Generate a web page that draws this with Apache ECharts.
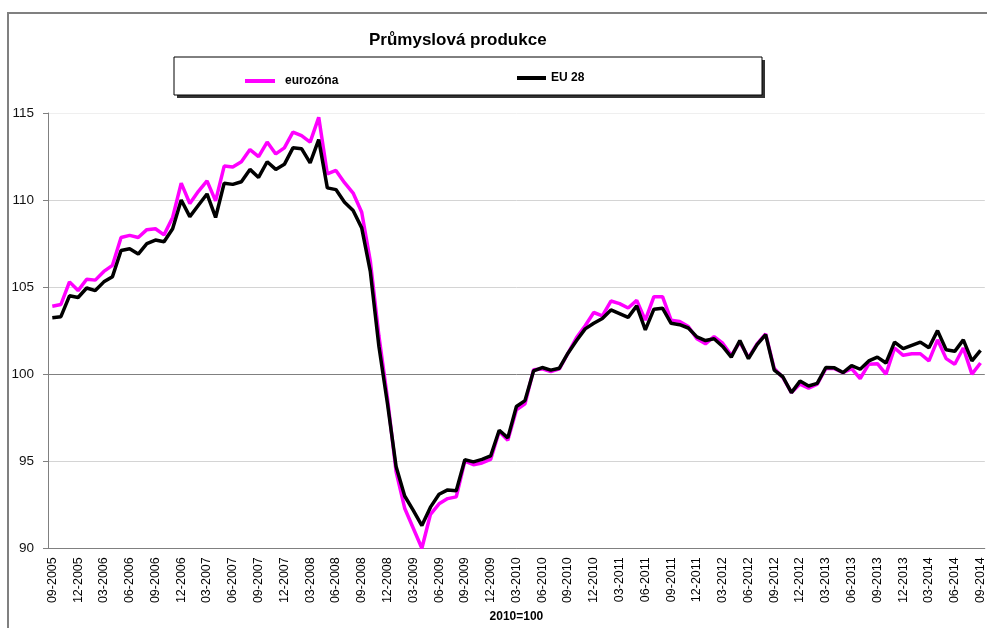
<!DOCTYPE html>
<html>
<head>
<meta charset="UTF-8">
<script src="https://cdn.jsdelivr.net/npm/echarts@6/dist/echarts.min.js"></script>
<style>
  html, body { margin: 0; padding: 0; background: #fff; }
  #chart { width: 987px; height: 628px; }
</style>
</head>
<body>
<div id="chart"></div>
<script>
// monthly categories 09-2005 .. 09-2014
const months = [];
for (let y = 2005; y <= 2014; y++) {
  for (let m = 1; m <= 12; m++) {
    if ((y === 2005 && m < 9) || (y === 2014 && m > 9)) continue;
    months.push(String(m).padStart(2, '0') + '-' + y);
  }
}

const eurozona = [
  103.9, 104.0, 105.3, 104.8, 105.45, 105.4, 105.9, 106.25, 107.85, 107.97,
  107.85, 108.3, 108.35, 108.0, 109.0, 110.97, 109.8, 110.5, 111.1, 109.95,
  111.95, 111.9, 112.2, 112.9, 112.5, 113.33, 112.65, 113.0, 113.9, 113.7,
  113.33, 114.75, 111.5, 111.7, 111.0, 110.4, 109.3, 106.5, 102.2, 98.6,
  94.4, 92.3, 91.15, 90.0, 91.95, 92.55, 92.85, 92.95, 95.0, 94.8,
  94.9, 95.1, 96.7, 96.2, 97.95, 98.3, 100.25, 100.3, 100.15, 100.3,
  101.2, 102.1, 102.78, 103.54, 103.35, 104.2, 104.05, 103.8, 104.24, 103.1,
  104.45, 104.45, 103.1, 103.03, 102.73, 102.03, 101.74, 102.16, 101.78, 101.08,
  101.84, 100.95, 101.74, 102.31, 100.32, 99.81, 98.94, 99.43, 99.19, 99.43,
  100.32, 100.32, 100.08, 100.32, 99.75, 100.57, 100.6, 100.0, 101.5, 101.08,
  101.17, 101.17, 100.76, 101.97, 100.89, 100.57, 101.5, 100.0, 100.64
];

const eu28 = [
  103.24, 103.3, 104.5, 104.4, 104.95, 104.8, 105.3, 105.6, 107.1, 107.2,
  106.9, 107.5, 107.7, 107.6, 108.35, 110.0, 109.05, 109.7, 110.35, 109.0,
  110.97, 110.9, 111.05, 111.76, 111.3, 112.2, 111.76, 112.05, 113.0, 112.95,
  112.14, 113.47, 110.7, 110.6, 109.87, 109.4, 108.4, 105.9, 101.6, 98.3,
  94.7, 93.0, 92.17, 91.3, 92.36, 93.1, 93.35, 93.3, 95.08, 94.96,
  95.1, 95.3, 96.78, 96.34, 98.14, 98.48, 100.19, 100.38, 100.23, 100.34,
  101.2, 101.93, 102.6, 102.92, 103.2, 103.69, 103.48, 103.26, 103.92, 102.54,
  103.73, 103.79, 102.92, 102.84, 102.65, 102.14, 101.93, 102.03, 101.59, 100.98,
  101.93, 100.89, 101.7, 102.27, 100.23, 99.85, 98.94, 99.6, 99.32, 99.47,
  100.38, 100.36, 100.09, 100.49, 100.28, 100.76, 100.98, 100.64, 101.84, 101.46,
  101.65, 101.84, 101.52, 102.5, 101.4, 101.31, 101.97, 100.76, 101.36
];

const seriesNames = ['eurozóna', 'EU 28'];
const font = 'Liberation Sans, Arial, sans-serif';

const chart = echarts.init(document.getElementById('chart'), null, { renderer: 'canvas' });
chart.setOption({
  animation: false,
  backgroundColor: '#fff',
  title: {
    text: 'Průmyslová produkce',
    left: 364,
    top: 27,
    textStyle: { fontFamily: font, fontSize: 17, fontWeight: 'bold', color: '#000' }
  },
  graphic: [
    { type: 'polyline', shape: { points: [[8, 628], [8, 13], [987, 13]] },
      style: { stroke: '#808080', lineWidth: 2, fill: null } },
    { type: 'rect', shape: { x: 177, y: 60, width: 588, height: 38 }, style: { fill: '#333' } },
    { type: 'rect', shape: { x: 174, y: 57, width: 588, height: 38 },
      style: { fill: '#fff', stroke: '#000', lineWidth: 1 } }
  ],
  legend: [
    { data: [seriesNames[0]], left: 240, top: 70, icon: 'rect', itemWidth: 30, itemHeight: 4,
      textStyle: { fontFamily: font, fontSize: 12, fontWeight: 'bold', color: '#000', padding: [0, 0, 0, 5] } },
    { data: [seriesNames[1]], left: 512, top: 67, icon: 'rect', itemWidth: 29, itemHeight: 4,
      textStyle: { fontFamily: font, fontSize: 12, fontWeight: 'bold', color: '#000' } }
  ],
  grid: { left: 48, right: 0, top: 113, bottom: 75 },
  xAxis: {
    type: 'category',
    data: months,
    boundaryGap: true,
    name: '2010=100',
    nameLocation: 'middle',
    nameGap: 61,
    nameTextStyle: { fontFamily: font, fontSize: 12, fontWeight: 'bold', color: '#000' },
    axisLine: { lineStyle: { color: '#808080', width: 1 } },
    axisTick: { interval: 2, length: 5, lineStyle: { color: '#808080' } },
    axisLabel: { interval: 2, rotate: 90, margin: 9, fontFamily: font, fontSize: 12.5, color: '#000' },
    splitLine: { show: false }
  },
  yAxis: {
    type: 'value',
    min: 90,
    max: 115,
    interval: 5,
    axisLine: { show: true, lineStyle: { color: '#808080', width: 1 } },
    axisTick: { show: true, length: 5, lineStyle: { color: '#808080' } },
    axisLabel: { margin: 14, fontFamily: font, fontSize: 13.5, color: '#111' },
    splitLine: {
      show: true,
      lineStyle: { color: ['#808080', '#d4d4d4', '#808080', '#d4d4d4', '#d4d4d4', '#efefef'], width: 1 }
    }
  },
  series: [
    { name: seriesNames[0], type: 'line', data: eurozona, showSymbol: false,
      itemStyle: { color: '#ff00ff' }, lineStyle: { color: '#ff00ff', width: 3.5 } },
    { name: seriesNames[1], type: 'line', data: eu28, showSymbol: false,
      itemStyle: { color: '#000' }, lineStyle: { color: '#000', width: 3.5 } }
  ]
});
</script>
</body>
</html>
